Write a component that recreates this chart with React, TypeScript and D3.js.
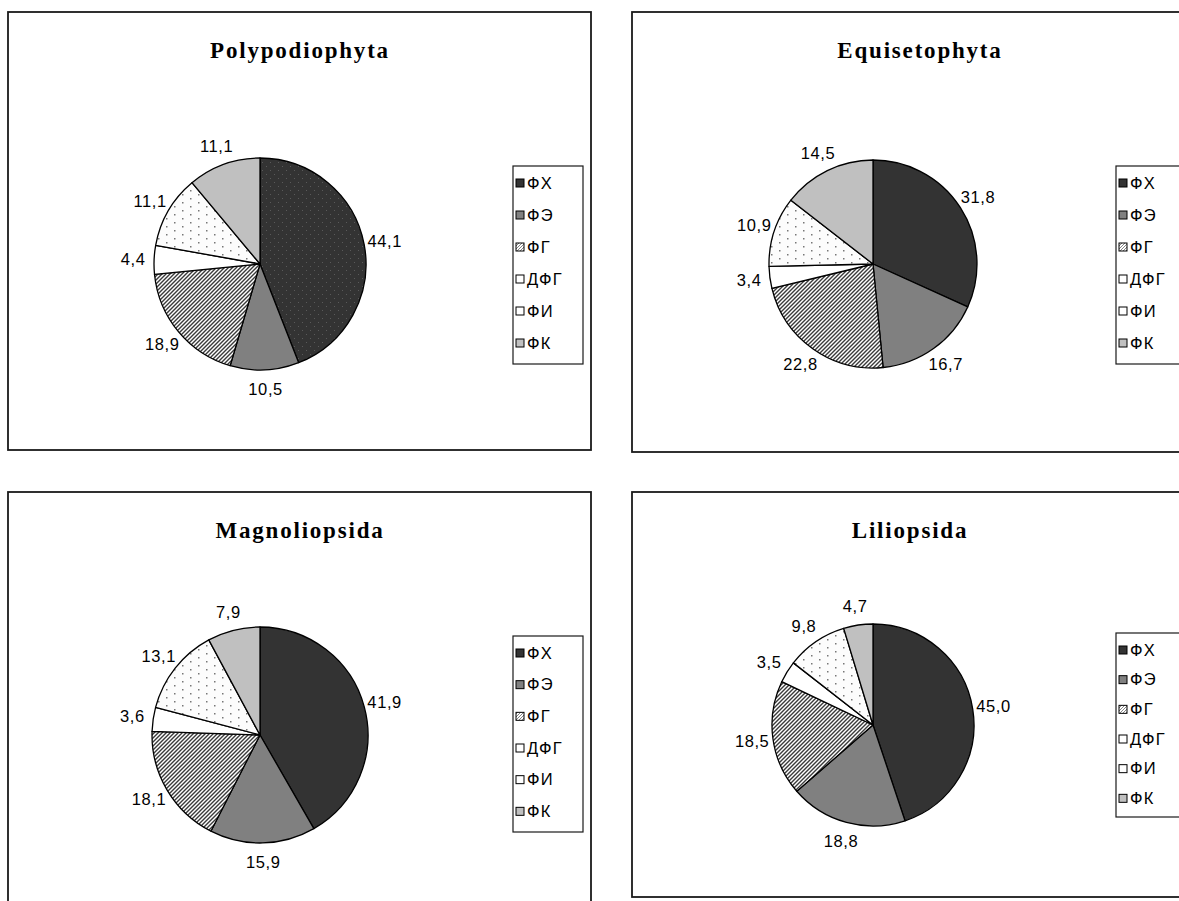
import React from "react";
import * as d3 from "d3";

const categories = ["ФХ", "ФЭ", "ФГ", "ДФГ", "ФИ", "ФК"];
const titles = ["Polypodiophyta", "Equisetophyta", "Magnoliopsida", "Liliopsida"];
const polypodiophyta = [44.1, 10.5, 18.9, 4.4, 11.1, 11.1];
const equisetophyta = [31.8, 16.7, 22.8, 3.4, 10.9, 14.5];
const magnoliopsida = [41.9, 15.9, 18.1, 3.6, 13.1, 7.9];
const liliopsida = [45.0, 18.8, 18.5, 3.5, 9.8, 4.7];

const seriesList = [polypodiophyta, equisetophyta, magnoliopsida, liliopsida];

// layout (styles / positions only)
const panels = [
  { x: 8, y: 12, w: 583, h: 438, cx: 260, cy: 264, r: 106, lx: 513, ly: 166, lw: 70, lh: 198, tx: 300, ty: 58, dottedDark: true },
  { x: 632, y: 12, w: 583, h: 440, cx: 873, cy: 264, r: 104, lx: 1116, ly: 166, lw: 70, lh: 198, tx: 920, ty: 58, dottedDark: false },
  { x: 8, y: 492, w: 583, h: 440, cx: 260, cy: 735, r: 108, lx: 513, ly: 636, lw: 70, lh: 196, tx: 300, ty: 538, dottedDark: false },
  { x: 632, y: 492, w: 583, h: 405, cx: 873, cy: 725, r: 101, lx: 1116, ly: 633, lw: 70, lh: 184, tx: 910, ty: 538, dottedDark: false },
];

const fills = ["#333333", "#808080", "url(#hatch)", "#ffffff", "url(#dots)", "#c0c0c0"];

const fmt = (v: number) => v.toFixed(1).replace(".", ",");

function Panel({ idx }: { idx: number }) {
  const p = panels[idx];
  const values = seriesList[idx];
  const pie = d3.pie<number>().sort(null).startAngle(0).endAngle(2 * Math.PI);
  const arcs = pie(values);
  const arc = d3.arc<d3.PieArcDatum<number>>().innerRadius(0).outerRadius(p.r);
  const step = (p.lh - 6) / 6;
  return (
    <g>
      <rect x={p.x} y={p.y} width={p.w} height={p.h} fill="#fff" stroke="#1a1a1a" strokeWidth={1.8} />
      <text x={p.tx} y={p.ty} textAnchor="middle" fontFamily="'Liberation Serif', 'Times New Roman', serif" fontWeight="bold" fontSize={23} letterSpacing={1.8} fill="#000">
        {titles[idx]}
      </text>
      <g transform={`translate(${p.cx},${p.cy})`}>
        {arcs.map((a, i) => (
          <path key={i} d={arc(a) || ""} fill={i === 0 && p.dottedDark ? "url(#darkdots)" : fills[i]} stroke="#000" strokeWidth={1.3} strokeLinejoin="round" />
        ))}
        {arcs.map((a, i) => {
          const mid = (a.startAngle + a.endAngle) / 2;
          const s = Math.sin(mid);
          const c = Math.cos(mid);
          const d = p.r + 5;
          const x = d * s + 16 * s;
          const y = -d * c - 14 * c;
          return (
            <text key={"l" + i} x={x} y={y} dy="0.35em" textAnchor="middle" fontFamily="'Liberation Sans', Arial, sans-serif" fontSize={16.5} letterSpacing={0.6} fill="#000">
              {fmt(values[i])}
            </text>
          );
        })}
      </g>
      <rect x={p.lx} y={p.ly} width={p.lw} height={p.lh} fill="#fff" stroke="#1a1a1a" strokeWidth={1.2} />
      {categories.map((cat, i) => {
        const yy = p.ly + 17 + i * step;
        return (
          <g key={"g" + i}>
            <rect x={p.lx + 3} y={yy - 4} width={8} height={8} fill={fills[i] === "url(#dots)" ? "#ffffff" : fills[i] === "url(#hatch)" ? "url(#hatchsmall)" : fills[i]} stroke="#000" strokeWidth={1} />
            <text x={p.lx + 14} y={yy} dy="0.35em" fontFamily="'Liberation Sans', Arial, sans-serif" fontSize={16.5} letterSpacing={1.2} fill="#000">
              {cat}
            </text>
          </g>
        );
      })}
    </g>
  );
}

export default function App() {
  return (
    <svg width={1179} height={901} style={{ position: "absolute", left: 0, top: 0, background: "#fff" }}>
      <defs>
        <pattern id="hatch" width={4} height={4} patternUnits="userSpaceOnUse">
          <rect width={4} height={4} fill="#fff" />
          <path d="M-1,1 L1,-1 M0,4 L4,0 M3,5 L5,3" stroke="#3a3a3a" strokeWidth={1.4} />
        </pattern>
        <pattern id="hatchsmall" width={3} height={3} patternUnits="userSpaceOnUse">
          <rect width={3} height={3} fill="#fff" />
          <path d="M0,3 L3,0" stroke="#666" strokeWidth={0.8} />
        </pattern>
        <pattern id="dots" width={16} height={8} patternUnits="userSpaceOnUse">
          <rect width={16} height={8} fill="#fcfcfc" />
          <rect x={2} y={2} width={1.5} height={1.5} fill="#777" />
          <rect x={10} y={6} width={1.5} height={1.5} fill="#777" />
        </pattern>
        <pattern id="darkdots" width={8} height={8} patternUnits="userSpaceOnUse">
          <rect width={8} height={8} fill="#333" />
          <rect x={2} y={2} width={1} height={1} fill="#5a5a5a" />
          <rect x={6} y={6} width={1} height={1} fill="#5a5a5a" />
        </pattern>
      </defs>
      {panels.map((_, i) => (
        <Panel key={i} idx={i} />
      ))}
    </svg>
  );
}
